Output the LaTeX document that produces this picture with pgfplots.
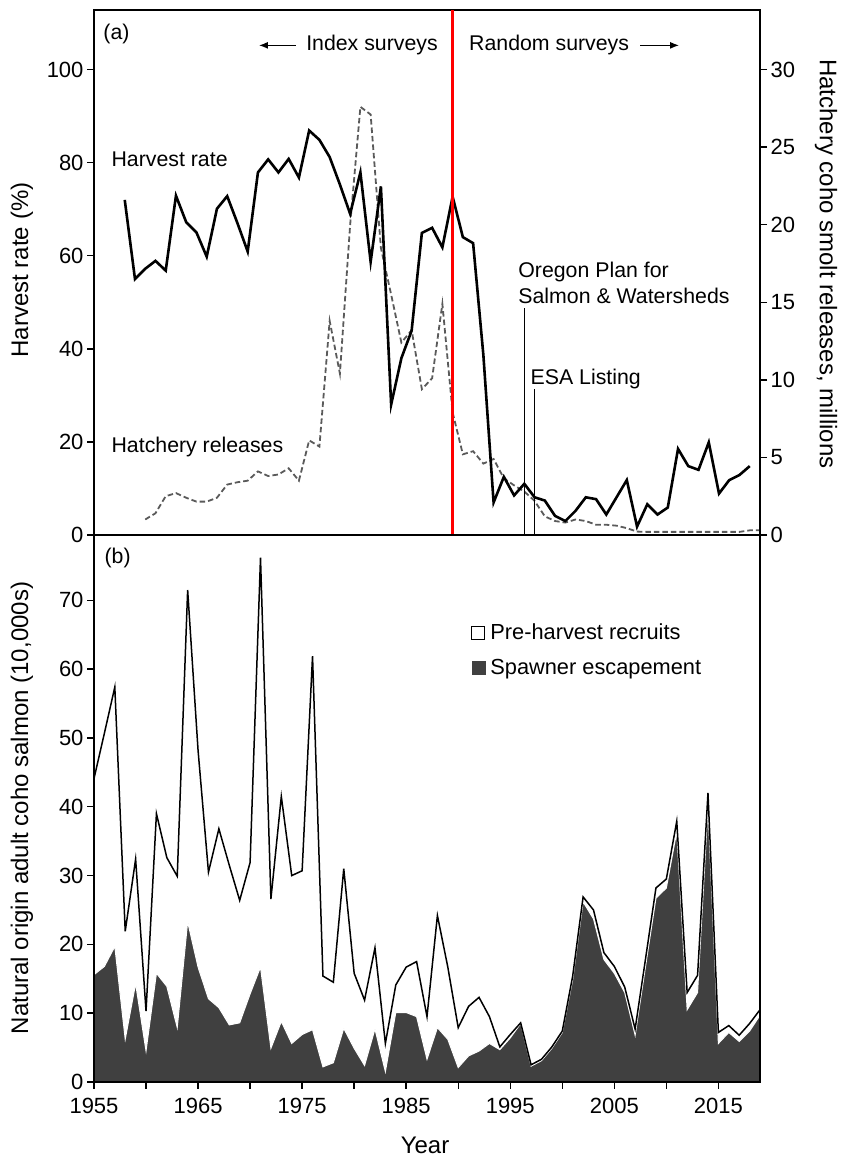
\documentclass[border=0pt]{standalone}
\usepackage{fontspec}
\setmainfont{Liberation Sans}
\usepackage{pgfplots}
\pgfplotsset{compat=1.18}
\usetikzlibrary{arrows.meta}
\definecolor{spawncol}{RGB}{64,64,64}
\definecolor{hatchcol}{RGB}{90,90,90}

\pgfplotsset{
  mybase/.style={
    scale only axis, width=666pt,
    /pgf/number format/assume math mode=true,
    /pgf/number format/1000 sep={},
    tick align=outside, major tick length=7pt, minor tick length=7pt,
    tick style={black, line width=1.4pt},
    axis line style={line width=1.7pt},
    every tick label/.append style={font=\fontsize{22}{26}\selectfont},
  }
}

\begin{document}
\begin{tikzpicture}
\useasboundingbox (0pt,0pt) rectangle (843pt,1162pt);

% ---------- panel (a), right axis: hatchery releases ----------
\begin{axis}[mybase, at={(94pt,627pt)}, anchor=south west, height=525pt,
  xmin=1955, xmax=2020, ymin=0, ymax=33.84,
  axis y line*=right, axis x line=none, ytick={0,5,...,30}]
\addplot[hatchcol, line width=1.8pt, dash pattern=on 5.5pt off 3pt] table {
1960 1.0
1961 1.4
1962 2.5
1963 2.7
1964 2.4
1965 2.15
1966 2.15
1967 2.4
1968 3.25
1969 3.4
1970 3.5
1971 4.1
1972 3.8
1973 3.9
1974 4.3
1975 3.5
1976 6.1
1977 5.7
1978 13.8
1979 10.4
1980 20.0
1981 27.6
1982 27.1
1983 18.5
1984 15.5
1985 12.4
1986 13.2
1987 9.4
1988 10.1
1989 14.9
1990 7.9
1991 5.2
1992 5.4
1993 4.6
1994 4.9
1995 3.65
1996 3.2
1997 2.8
1998 2.2
1999 1.2
2000 0.9
2001 0.8
2002 1.0
2003 0.9
2004 0.66
2005 0.66
2006 0.6
2007 0.44
2008 0.22
2009 0.2
2010 0.2
2011 0.2
2012 0.2
2013 0.2
2014 0.2
2015 0.2
2016 0.2
2017 0.2
2018 0.2
2019 0.3
2020 0.3
};
\end{axis}

% ---------- panel (a), left axis: harvest rate ----------
\begin{axis}[mybase, at={(94pt,627pt)}, anchor=south west, height=525pt,
  xmin=1955, xmax=2020, ymin=0, ymax=112.8,
  xtick=\empty, ytick={0,20,...,100}, ytick pos=left, clip=false]
\addplot[black, line width=2.6pt] table {
1958 72
1959 55
1960 57.2
1961 58.9
1962 56.8
1963 72.9
1964 67.2
1965 65
1966 59.8
1967 70.1
1968 72.8
1969 67
1970 60.9
1971 77.9
1972 80.7
1973 77.9
1974 80.8
1975 76.8
1976 86.9
1977 84.9
1978 81.2
1979 75.3
1980 69
1981 77.9
1982 58.7
1983 74.9
1984 28
1985 38
1986 43.9
1987 64.9
1988 66
1989 61.8
1990 72.7
1991 64
1992 62.7
1993 38.7
1994 7
1995 12.5
1996 8.5
1997 11
1998 8.1
1999 7.4
2000 4.1
2001 3
2002 5.2
2003 8.1
2004 7.7
2005 4.4
2006 8.1
2007 11.8
2008 1.8
2009 6.6
2010 4.4
2011 5.9
2012 18.5
2013 14.8
2014 14
2015 19.9
2016 8.9
2017 11.8
2018 12.9
2019 14.8
};
\addplot[red, line width=2.6pt] coordinates {(1990,0) (1990,112.8)};
\addplot[black, line width=1.3pt] coordinates {(1997,0) (1997,48.7)};
\addplot[black, line width=1.3pt] coordinates {(1998,0) (1998,31.4)};
\begin{scope}[every node/.style={inner sep=0pt, font=\fontsize{21.3}{25}\selectfont}]
\node[anchor=west] at (axis cs:1955.9,107.7) {(a)};
\node[anchor=west] at (axis cs:1975.7,105.2) {Index surveys};
\node[anchor=west] at (axis cs:1991.6,105.2) {Random surveys};
\node[anchor=west] at (axis cs:1956.7,80.7) {Harvest rate};
\node[anchor=west] at (axis cs:1956.7,18.8) {Hatchery releases};
\node[anchor=west] at (axis cs:1996.4,56.5) {Oregon Plan for};
\node[anchor=west] at (axis cs:1996.4,51.3) {Salmon \& Watersheds};
\node[anchor=west] at (axis cs:1997.6,33.6) {ESA Listing};
\end{scope}
\draw[-{Latex[length=9pt,width=7pt]}, line width=1.2pt] (axis cs:1974.7,105.2) -- (axis cs:1971.1,105.2);
\draw[-{Latex[length=9pt,width=7pt]}, line width=1.2pt] (axis cs:2008.3,105.2) -- (axis cs:2012.1,105.2);
\end{axis}

% ---------- panel (b) ----------
\begin{axis}[mybase, at={(94pt,80pt)}, anchor=south west, height=547pt,
  xmin=1955, xmax=2019, ymin=0, ymax=79.5,
  xtick={1955,1965,...,2015}, minor xtick={1960,1970,...,2010},
  ytick={0,10,...,70}, xtick pos=bottom, ytick pos=left, axis on top,
  xticklabel style={yshift=-6pt},
  legend style={at={(0.566,0.841)}, anchor=north west, draw=none, fill=none,
    font=\fontsize{21.8}{25}\selectfont, row sep=14pt, inner sep=0pt,
    nodes={inner xsep=5pt}},
  legend cell align=left]
\addplot[fill=spawncol, draw=white, line width=1pt, forget plot] table {
1955 15.6
1956 16.8
1957 19.7
1958 6.2
1959 14.3
1960 4.5
1961 15.8
1962 13.9
1963 7.9
1964 23.3
1965 16.7
1966 12.1
1967 10.8
1968 8.3
1969 8.6
1970 12.8
1971 16.7
1972 4.9
1973 8.8
1974 5.6
1975 6.9
1976 7.6
1977 2.2
1978 2.8
1979 7.8
1980 4.9
1981 2.4
1982 7.7
1983 1.5
1984 10.1
1985 10.1
1986 9.5
1987 3.3
1988 7.9
1989 6.2
1990 2.1
1991 3.8
1992 4.5
1993 5.6
1994 4.7
1995 6.4
1996 8.5
1997 2.3
1998 3.1
1999 4.9
2000 7.2
2001 14.9
2002 26.2
2003 23.7
2004 17.8
2005 15.8
2006 13.0
2007 6.8
2008 16.8
2009 26.7
2010 28.2
2011 36.4
2012 10.5
2013 13.0
2014 40.0
2015 5.6
2016 7.2
2017 5.9
2018 7.4
2019 9.7
} \closedcycle;
\addplot[black, line width=1.5pt, forget plot] table {
1955 44.1
1956 50.7
1957 57.4
1958 21.9
1959 32.4
1960 10.3
1961 39
1962 32.6
1963 29.9
1964 71.5
1965 48.2
1966 30.5
1967 36.8
1968 31.5
1969 26.4
1970 31.9
1971 76.2
1972 26.6
1973 41.5
1974 30
1975 30.7
1976 61.9
1977 15.4
1978 14.5
1979 31
1980 15.8
1981 11.9
1982 19.5
1983 5.6
1984 14.1
1985 16.7
1986 17.5
1987 9.5
1988 24.2
1989 16.7
1990 7.9
1991 11
1992 12.3
1993 9.5
1994 5.1
1995 6.9
1996 8.6
1997 2.5
1998 3.3
1999 5.1
2000 7.4
2001 15.4
2002 26.9
2003 25
2004 18.8
2005 16.8
2006 13.8
2007 7.7
2008 17.9
2009 28.2
2010 29.5
2011 37.9
2012 13
2013 15.5
2014 42
2015 7.2
2016 8.2
2017 6.8
2018 8.5
2019 10.5
};
\addlegendimage{legend image code/.code={\draw[black, line width=1.2pt, fill=white] (0pt,-6.5pt) rectangle (13pt,6.5pt);}}
\addlegendentry{Pre-harvest recruits}
\addlegendimage{legend image code/.code={\fill[spawncol] (0pt,-6.5pt) rectangle (13pt,6.5pt);}}
\addlegendentry{Spawner escapement}
\node[anchor=west, inner sep=0pt, font=\fontsize{21.3}{25}\selectfont] at (axis cs:1956,76.2) {(b)};
\end{axis}

% ---------- axis titles ----------
\node[rotate=90, font=\fontsize{24}{28}\selectfont] at (22pt,892pt) {Harvest rate (\%)};
\node[rotate=-90, font=\fontsize{24}{28}\selectfont] at (826pt,898pt) {Hatchery coho smolt releases, millions};
\node[rotate=90, font=\fontsize{24}{28}\selectfont] at (22pt,354pt) {Natural origin adult coho salmon (10,000s)};
\node[font=\fontsize{24}{28}\selectfont] at (425pt,17pt) {Year};
\end{tikzpicture}
\end{document}
